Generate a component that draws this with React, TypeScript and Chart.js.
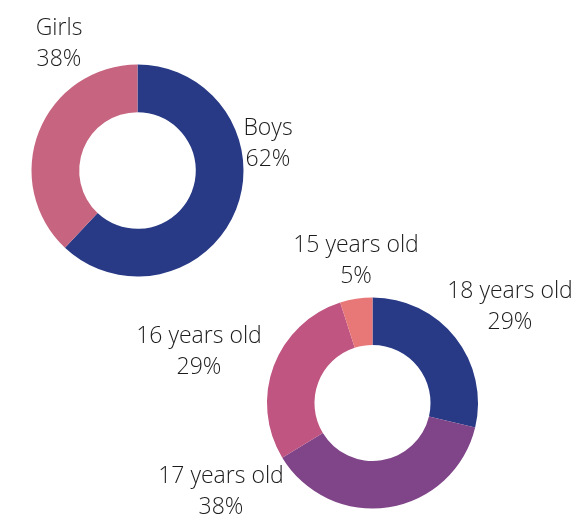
import React, { useEffect, useRef } from "react";
import { Chart, registerables } from "chart.js";

Chart.register(...registerables);

const genderLabels = ["Boys", "Girls"];
const genderValues = [62, 38];
const genderColors = ["#283A85", "#C7647F"];

const ageLabels = ["18 years old", "17 years old", "16 years old", "15 years old"];
const ageValues = [29, 38, 29, 5];
const ageColors = ["#283A85", "#7F4588", "#BF5580", "#E87878"];

const FONT = "300 23px 'Open Sans', 'Noto Sans', sans-serif";

// label anchors (dx, dy of first baseline) relative to the donut centre
const genderLabelOffsets = [
  [130.5, -35.5],
  [-78.5, -135.5],
];
const ageLabelOffsets = [
  [137.5, -105],
  [-151.5, 80],
  [-173.5, -60],
  [-16.5, -151],
];

function makeLabelPlugin(labels: string[], values: number[], offsets: number[][]) {
  return {
    id: "outerLabels",
    afterDraw(chart: any) {
      const meta = chart.getDatasetMeta(0);
      const arc = meta.data[0];
      if (!arc) return;
      const cx = arc.x;
      const cy = arc.y;
      const ctx = chart.ctx;
      ctx.save();
      ctx.font = FONT;
      ctx.fillStyle = "#1c1c1c";
      ctx.textAlign = "center";
      ctx.textBaseline = "alphabetic";
      labels.forEach((l, i) => {
        const [dx, dy] = offsets[i];
        ctx.fillText(l, cx + dx, cy + dy);
        ctx.fillText(values[i] + "%", cx + dx, cy + dy + 31);
      });
      ctx.restore();
    },
  };
}

function Donut(props: {
  labels: string[];
  values: number[];
  colors: string[];
  offsets: number[][];
  padding: { left: number; right: number; top: number; bottom: number };
}) {
  const ref = useRef<HTMLCanvasElement | null>(null);
  useEffect(() => {
    if (!ref.current) return;
    const chart = new Chart(ref.current, {
      type: "doughnut",
      data: {
        labels: props.labels,
        datasets: [
          {
            data: props.values,
            backgroundColor: props.colors,
            borderWidth: 0,
          },
        ],
      },
      options: {
        animation: false,
        responsive: false,
        cutout: "55%",
        layout: { padding: props.padding },
        plugins: {
          legend: { display: false },
          tooltip: { enabled: false },
        },
      },
      plugins: [makeLabelPlugin(props.labels, props.values, props.offsets)],
    });
    return () => chart.destroy();
  }, []);
  return (
    <canvas
      ref={ref}
      width={573}
      height={514}
      style={{ position: "absolute", left: 0, top: 0, width: 573, height: 514 }}
    />
  );
}

export default function App() {
  return (
    <div
      style={{
        position: "absolute",
        left: 0,
        top: 0,
        width: 573,
        height: 514,
        background: "#ffffff",
        overflow: "hidden",
      }}
    >
      <Donut
        labels={genderLabels}
        values={genderValues}
        colors={genderColors}
        offsets={genderLabelOffsets}
        padding={{ left: 31.5, right: 329.5, top: 64.5, bottom: 237.5 }}
      />
      <Donut
        labels={ageLabels}
        values={ageValues}
        colors={ageColors}
        offsets={ageLabelOffsets}
        padding={{ left: 267, right: 95, top: 297.5, bottom: 5.5 }}
      />
    </div>
  );
}
